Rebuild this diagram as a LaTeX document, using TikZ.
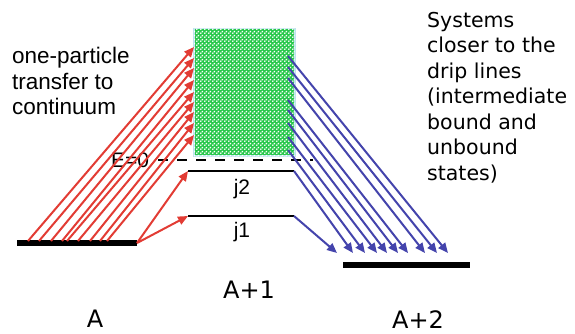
\documentclass[tikz,border=0pt]{standalone}
\usepackage{fontspec}
\setmainfont{Liberation Sans}
\newfontfamily\comicfont{DejaVu Sans}
\usepackage{tikz}
\usetikzlibrary{arrows.meta,patterns,positioning}
\definecolor{transferred}{RGB}{226,60,52}
\definecolor{decayblue}{RGB}{68,68,172}
\definecolor{contgreen}{RGB}{40,200,76}
\definecolor{contedge}{RGB}{190,228,236}

% checker of small white dots for the continuum
\pgfdeclarepatternformonly{bubbles}{\pgfqpoint{0pt}{0pt}}{\pgfqpoint{4pt}{4pt}}{\pgfqpoint{4pt}{4pt}}{
  \pgfpathcircle{\pgfqpoint{1pt}{1pt}}{1.1pt}
  \pgfpathcircle{\pgfqpoint{3pt}{3pt}}{1.1pt}
  \pgfusepath{fill}
}

\tikzset{
  level/.style={line width=6pt},
  sublevel/.style={line width=2.5pt},
  redarrow/.style={transferred,line width=2pt,-{Triangle[length=10pt,width=8.5pt]}},
  bluearrow/.style={decayblue,line width=2pt,-{Triangle[length=10pt,width=8.5pt]}},
  tag/.style={font=\comicfont\fontsize{24}{28}\selectfont},
}

\begin{document}
\begin{tikzpicture}[x=1pt,y=-1pt]
    \useasboundingbox (0,0) rectangle (575,334);

    % Continuum above E=0
    \node[draw=contedge,line width=1.5pt,fill=contgreen,minimum width=101,minimum height=127,
          anchor=north west,inner sep=0] (cont) at (193,28) {};
    \path[pattern=bubbles,pattern color=white] ([shift={(1,1)}]cont.south west) rectangle ([shift={(-1,-1)}]cont.north east);

    % Levels
    \coordinate (gsL) at (17,243);   \coordinate (gsR) at (137,243);
    \coordinate (a2L) at (343,265);  \coordinate (a2R) at (470,265);
    \coordinate (j2L) at (188,171);  \coordinate (j2R) at (294,171);
    \coordinate (j1L) at (188,216);  \coordinate (j1R) at (294,216);
    \coordinate (e0L) at (158,160);  \coordinate (e0R) at (313,160);
    \draw[level] (gsL) -- (gsR);
    \draw[level] (a2L) -- (a2R);
    \draw[sublevel] (j2L) -- (j2R);
    \draw[sublevel] (j1L) -- (j1R);
    \draw[line width=2.5pt,dash pattern=on 10pt off 9pt] (e0L) -- (e0R);
    \node[font=\fontsize{21}{24}\selectfont] (ezero) at (130,160) {E=0};
    \node[font=\fontsize{21}{24}\selectfont] (jtwo) at (242,189) {j2};
    \node[font=\fontsize{21}{24}\selectfont] (jone) at (242,232) {j1};

    % Transfer from A to the continuum and bound states
    \foreach \xs/\ye [count=\i] in {28/47,39/58,51/68,62/80,67/92,78/102,90/112,100/123,107/135}{
        \coordinate (rs\i) at (\xs,241);
        \coordinate (re\i) at (194,\ye);
        \draw[redarrow] (rs\i) -- (re\i);
    }
    \draw[redarrow] (gsR) -- (j2L);
    \draw[redarrow] (gsR) -- (j1L);

    % Decay to A+2
    \foreach \ys/\xe [count=\i] in {56/448,67/437,78/425,100/408,110/398,123/387,137/377,150/365}{
        \coordinate (bs\i) at (288,\ys);
        \coordinate (be\i) at (\xe,253);
        \draw[bluearrow] (bs\i) -- (be\i);
    }
    \coordinate (be9) at (353,253);
    \coordinate (be10) at (337,253);
    \draw[bluearrow] (j2R) -- (be9);
    \draw[bluearrow] (j1R) -- (be10);

    % Texts
    \node[anchor=north west,inner sep=0,align=left,font=\fontsize{22.5}{25.5}\selectfont] (transfertxt) at (12,47)
        {one-particle\\transfer to\\continuum};
    \node[anchor=north west,inner sep=0,align=left,font=\comicfont\fontsize{20.5}{25.5}\selectfont] (driptxt) at (427,12)
        {Systems\\closer to the\\drip lines\\(intermediate\\bound and\\unbound\\states)};
    \node[tag] (labA) at (95,319) {A};
    \node[tag] (labAone) at (249,290) {A+1};
    \node[tag] (labAtwo) at (418,320) {A+2};
\end{tikzpicture}
\end{document}
